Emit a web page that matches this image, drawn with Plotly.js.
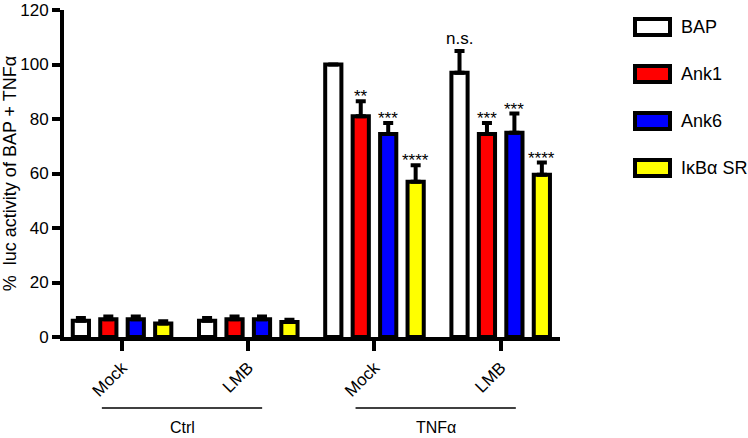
<!DOCTYPE html>
<html>
<head>
<meta charset="utf-8">
<script src="https://cdn.plot.ly/plotly-3.0.1.min.js"></script>
<style>
  html, body { margin: 0; padding: 0; background: #fff; }
  #chart { width: 748px; height: 438px; }
</style>
</head>
<body>
<div id="chart"></div>
<script>
// treatments on the x axis, grouped by condition
const treatments = ['Mock', 'LMB', 'Mock', 'LMB'];
const conditions = ['Ctrl', 'TNFα'];
const seriesNames = ['BAP', 'Ank1', 'Ank6', 'IκBα SR'];
const seriesColors = ['#ffffff', '#ff0000', '#0000ff', '#ffff00'];

// % luc activity (mean) and upper error (SEM)
const bapVals  = [6, 6, 100, 97];
const bapErr   = [1, 1, 0, 8];
const ank1Vals = [6.5, 6.5, 81, 74.5];
const ank1Err  = [1, 1, 5.5, 4];
const ank6Vals = [6.5, 6.5, 74.5, 75];
const ank6Err  = [1, 1, 4, 7];
const srVals   = [5, 5.5, 57, 59.5];
const srErr    = [0.8, 0.8, 6, 4.5];

// significance marks
const bapSig  = ['', '', '', 'n.s.'];
const ank1Sig = ['', '', '**', '***'];
const ank6Sig = ['', '', '***', '***'];
const srSig   = ['', '', '****', '****'];

const FONT = 'Arial, "Liberation Sans", sans-serif';
const xs = treatments.map((t, i) => i);
const vals = [bapVals, ank1Vals, ank6Vals, srVals];
const errs = [bapErr, ank1Err, ank6Err, srErr];
const sigs = [bapSig, ank1Sig, ank6Sig, srSig];

const BARGAP = 0.13;
const slot = (1 - BARGAP) / seriesNames.length;

const traces = seriesNames.map((name, j) => ({
  type: 'bar',
  name: name,
  x: xs,
  y: vals[j],
  marker: { color: seriesColors[j], line: { color: '#000', width: 4 } },
  error_y: {
    type: 'data', symmetric: false, array: errs[j],
    arrayminus: errs[j].map(() => 0),
    color: '#000', thickness: 4, width: 5
  },
  showlegend: false,
  hoverinfo: 'skip'
}));

// plot area in pixels, used to place legend & group labels
const L = 64, R = 560, T = 10, B = 337;
const px = x => (x - L) / (R - L);
const py = y => (B - y) / (B - T);

const annotations = [];
const shapes = [];

// significance text above bars
sigs.forEach((arr, j) => {
  arr.forEach((s, i) => {
    if (!s) return;
    const stars = s.indexOf('*') === 0;
    annotations.push({
      x: i + (j - 1.5) * slot, y: vals[j][i] + errs[j][i],
      xref: 'x', yref: 'y', text: s, showarrow: false,
      yanchor: 'bottom', yshift: stars ? -7 : 1,
      font: { family: FONT, size: 17, color: '#000' }
    });
  });
});

// custom legend (big boxes)
const legendY = [27, 74, 121, 168];
seriesNames.forEach((name, j) => {
  shapes.push({
    type: 'rect', xref: 'paper', yref: 'paper',
    x0: px(635), x1: px(670), y0: py(legendY[j] + 8), y1: py(legendY[j] - 8),
    fillcolor: seriesColors[j], line: { color: '#000', width: 4 }
  });
  annotations.push({
    xref: 'paper', yref: 'paper', x: px(679), y: py(legendY[j]),
    xanchor: 'left', yanchor: 'middle', text: name, showarrow: false,
    font: { family: FONT, size: 18, color: '#000' }
  });
});

// condition group lines and labels
const groupSpan = [[-0.16, 1.11], [1.85, 3.12]];
conditions.forEach((c, k) => {
  shapes.push({
    type: 'line', xref: 'x', yref: 'paper',
    x0: groupSpan[k][0], x1: groupSpan[k][1], y0: py(408), y1: py(408),
    line: { color: '#000', width: 1.5 }
  });
  annotations.push({
    xref: 'x', yref: 'paper', x: (groupSpan[k][0] + groupSpan[k][1]) / 2, y: py(427),
    text: c, showarrow: false, yanchor: 'middle',
    font: { family: FONT, size: 16, color: '#000' }
  });
});

const layout = {
  width: 748, height: 438,
  margin: { l: L, r: 748 - R, t: T, b: 438 - B },
  paper_bgcolor: '#fff', plot_bgcolor: '#fff',
  barmode: 'group', bargap: BARGAP, bargroupgap: 0.41,
  font: { family: FONT, color: '#000' },
  xaxis: {
    range: [-0.46, 3.47], tickvals: xs, ticktext: treatments,
    tickangle: -45, ticks: 'outside', ticklen: 10, tickwidth: 4, tickcolor: '#000',
    showline: true, linewidth: 4, linecolor: '#000', showgrid: false, zeroline: false,
    tickfont: { family: FONT, size: 17, color: '#000' }
  },
  yaxis: {
    range: [0, 120], tickvals: [0, 20, 40, 60, 80, 100, 120],
    ticks: 'outside', ticklen: 8, tickwidth: 4, tickcolor: '#000',
    showline: true, linewidth: 4, linecolor: '#000', showgrid: false, zeroline: false,
    ticklabeloverflow: 'allow',
    tickfont: { family: FONT, size: 17, color: '#000' },
    title: { text: '%  luc activity of BAP + TNFα', font: { family: FONT, size: 18, color: '#000' }, standoff: 8 }
  },
  annotations: annotations,
  shapes: shapes
};

Plotly.newPlot('chart', traces, layout, { staticPlot: true, displayModeBar: false });
</script>
</body>
</html>
